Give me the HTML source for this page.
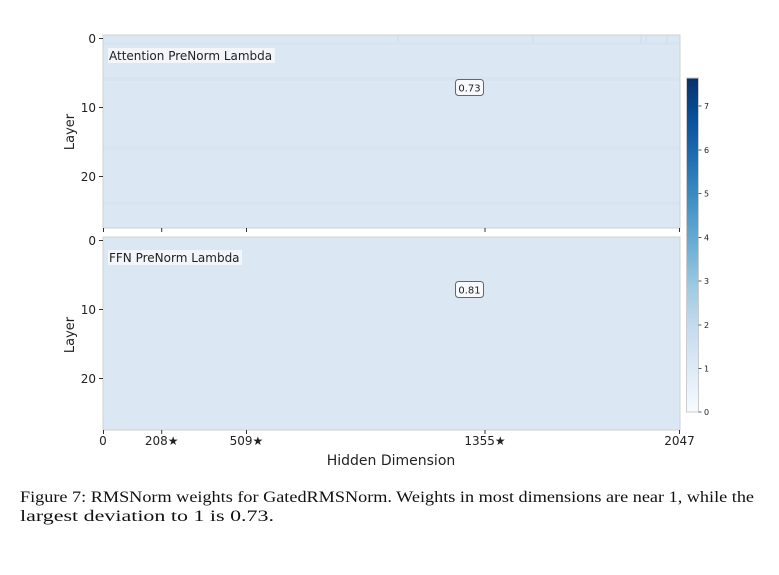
<!DOCTYPE html>
<html><head><meta charset="utf-8"><style>
html,body{margin:0;padding:0;background:#fff;}
svg{display:block;}
</style></head><body>
<svg width="779" height="575" viewBox="0 0 779 575" xmlns="http://www.w3.org/2000/svg">
<defs>
<linearGradient id="cb" x1="0" y1="1" x2="0" y2="0">
<stop offset="0" stop-color="#f7fbff"/>
<stop offset="0.125" stop-color="#deebf7"/>
<stop offset="0.25" stop-color="#c6dbef"/>
<stop offset="0.375" stop-color="#9ecae1"/>
<stop offset="0.5" stop-color="#6baed6"/>
<stop offset="0.625" stop-color="#4292c6"/>
<stop offset="0.75" stop-color="#2171b5"/>
<stop offset="0.875" stop-color="#08519c"/>
<stop offset="1" stop-color="#08306b"/>
</linearGradient>
</defs>
<g font-family="'DejaVu Sans','Liberation Sans',sans-serif">
<!-- top panel -->
<rect x="103" y="35" width="577" height="193" fill="#dbe7f3"/>
<g fill="#d6e3f1" opacity="0.5">
<rect x="103" y="42" width="577" height="3"/>
<rect x="103" y="77" width="577" height="4"/>
<rect x="103" y="146" width="577" height="4"/>
<rect x="103" y="201" width="577" height="4"/>
</g>
<g stroke="#cbdcee" stroke-width="1">
<line x1="398" y1="35" x2="398" y2="42"/>
<line x1="533" y1="35" x2="533" y2="42"/>
<line x1="641" y1="35" x2="641" y2="44"/>
<line x1="646" y1="35" x2="646" y2="42"/>
<line x1="667" y1="35" x2="667" y2="44"/>
</g>
<rect x="103" y="35" width="577" height="193" fill="none" stroke="#d0d0d0" stroke-width="1"/>
<rect x="108" y="48" width="167" height="15" fill="#f4f7fb" opacity="0.9"/>
<text x="109" y="60" font-size="12" fill="#222">Attention PreNorm Lambda</text>
<rect x="455.5" y="79.5" width="28" height="16" rx="3" fill="#f7f9fc" stroke="#666" stroke-width="1"/>
<text x="469.5" y="91.5" font-size="10" fill="#222" text-anchor="middle">0.73</text>
<g stroke="#333" stroke-width="1">
<line x1="99" y1="38.5" x2="103" y2="38.5"/>
<line x1="99" y1="107.5" x2="103" y2="107.5"/>
<line x1="99" y1="176.5" x2="103" y2="176.5"/>
<line x1="103.5" y1="228" x2="103.5" y2="232"/>
<line x1="161.7" y1="228" x2="161.7" y2="232"/>
<line x1="246.5" y1="228" x2="246.5" y2="232"/>
<line x1="485" y1="228" x2="485" y2="232"/>
<line x1="679.5" y1="228" x2="679.5" y2="232"/>
</g>
<g font-size="12" fill="#222" text-anchor="end">
<text x="96" y="43">0</text>
<text x="96" y="112">10</text>
<text x="96" y="181">20</text>
</g>
<text transform="translate(74,132) rotate(-90)" font-size="13" fill="#222" text-anchor="middle">Layer</text>

<!-- bottom panel -->
<rect x="103" y="237" width="577" height="193" fill="#dbe7f3"/>
<rect x="103" y="237" width="577" height="193" fill="none" stroke="#d0d0d0" stroke-width="1"/>
<rect x="108" y="250" width="134" height="15" fill="#f4f7fb" opacity="0.9"/>
<text x="109" y="262" font-size="12" fill="#222">FFN PreNorm Lambda</text>
<rect x="455.5" y="281.5" width="28" height="16" rx="3" fill="#f7f9fc" stroke="#666" stroke-width="1"/>
<text x="469.5" y="293.5" font-size="10" fill="#222" text-anchor="middle">0.81</text>
<g stroke="#333" stroke-width="1">
<line x1="99" y1="240.5" x2="103" y2="240.5"/>
<line x1="99" y1="309.5" x2="103" y2="309.5"/>
<line x1="99" y1="378.5" x2="103" y2="378.5"/>
<line x1="103.5" y1="430" x2="103.5" y2="434"/>
<line x1="161.7" y1="430" x2="161.7" y2="434"/>
<line x1="246.5" y1="430" x2="246.5" y2="434"/>
<line x1="485" y1="430" x2="485" y2="434"/>
<line x1="679.5" y1="430" x2="679.5" y2="434"/>
</g>
<g font-size="12" fill="#222" text-anchor="end">
<text x="96" y="245">0</text>
<text x="96" y="314">10</text>
<text x="96" y="383">20</text>
</g>
<text transform="translate(74,335) rotate(-90)" font-size="13" fill="#222" text-anchor="middle">Layer</text>
<g font-size="12" fill="#222" text-anchor="middle">
<text x="103" y="445">0</text>
<text x="161.7" y="445">208★</text>
<text x="246.5" y="445">509★</text>
<text x="485" y="445">1355★</text>
<text x="679.5" y="445">2047</text>
</g>
<text x="391" y="465" font-size="14" fill="#222" text-anchor="middle">Hidden Dimension</text>

<!-- colorbar -->
<rect x="686.5" y="78" width="12" height="334" fill="url(#cb)" stroke="#ccc" stroke-width="1"/>
<g stroke="#333" stroke-width="0.8">
<line x1="698.5" y1="106" x2="701.5" y2="106"/>
<line x1="698.5" y1="150" x2="701.5" y2="150"/>
<line x1="698.5" y1="193.5" x2="701.5" y2="193.5"/>
<line x1="698.5" y1="237.5" x2="701.5" y2="237.5"/>
<line x1="698.5" y1="281" x2="701.5" y2="281"/>
<line x1="698.5" y1="325" x2="701.5" y2="325"/>
<line x1="698.5" y1="368.5" x2="701.5" y2="368.5"/>
<line x1="698.5" y1="412" x2="701.5" y2="412"/>
</g>
<g font-size="8" fill="#222">
<text x="704" y="109">7</text>
<text x="704" y="153">6</text>
<text x="704" y="196.5">5</text>
<text x="704" y="240.5">4</text>
<text x="704" y="284">3</text>
<text x="704" y="328">2</text>
<text x="704" y="371.5">1</text>
<text x="704" y="415">0</text>
</g>
</g>
<g font-family="'Liberation Serif',serif" font-size="15.5" fill="#111">
<text x="20" y="502" textLength="734" lengthAdjust="spacingAndGlyphs">Figure 7: RMSNorm weights for GatedRMSNorm.  Weights in most dimensions are near 1, while the</text>
<text x="20" y="521" textLength="254" lengthAdjust="spacingAndGlyphs">largest deviation to 1 is 0.73.</text>
</g>
</svg>
</body></html>
